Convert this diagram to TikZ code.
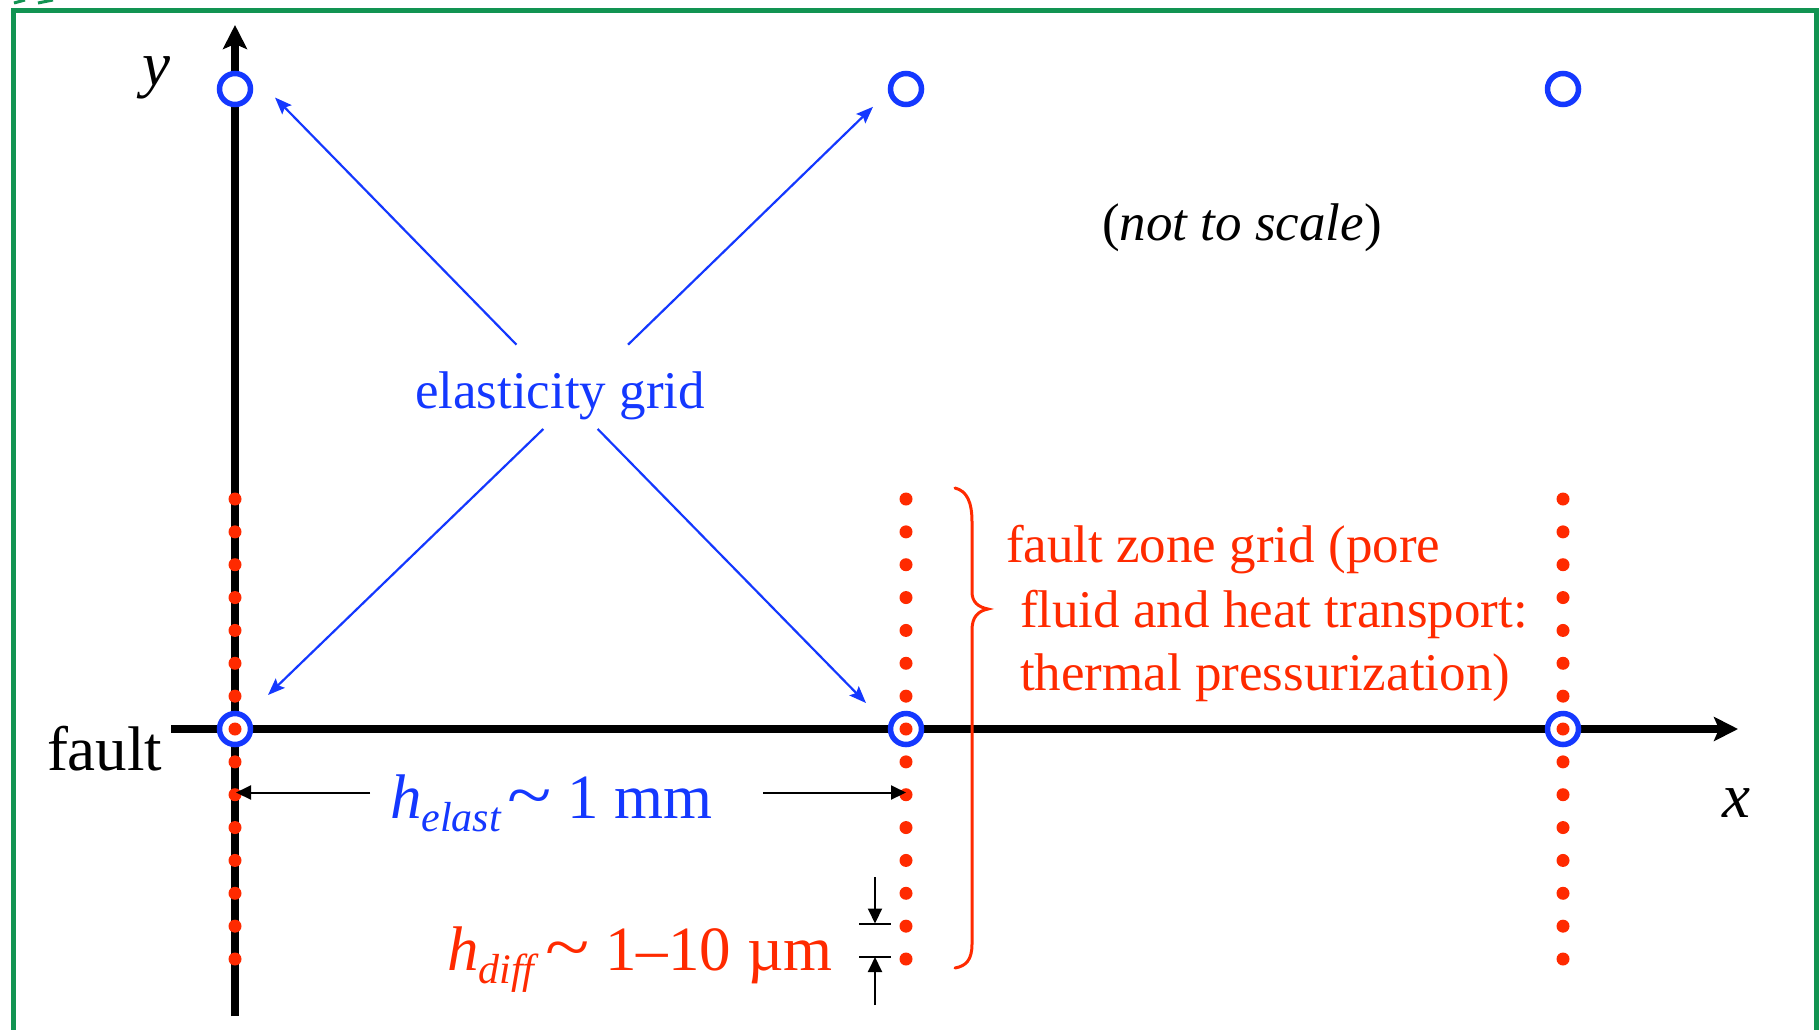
\documentclass[tikz,border=0pt]{standalone}
\usepackage{fontspec}
\usepackage{graphicx}
\setmainfont{Liberation Serif}
\usetikzlibrary{arrows.meta}
\definecolor{gblue}{RGB}{20,56,255}
\definecolor{gred}{RGB}{255,42,0}
\definecolor{ggreen}{RGB}{18,148,82}
\newcommand\FontBig{\fontsize{63}{70}\selectfont}
\newcommand\FontMed{\fontsize{53}{64}\selectfont}
\newcommand\FontSub{\fontsize{42}{48}\selectfont}
\newcommand\BigTilde{\scalebox{1.3}[1.1]{\textasciitilde}}
\begin{document}
\begin{tikzpicture}[x=1pt,y=-1pt,
  axis/.style={line width=7.5pt, -{Stealth[length=24pt,width=24pt,inset=5pt]}},
  ring/.style={circle, draw=gblue, fill=white, line width=5.5pt, minimum size=31pt, inner sep=0pt},
  fzdot/.style={circle, fill=gred, minimum size=13pt, inner sep=0pt, draw=none},
  bluearrow/.style={gblue, line width=2.2pt, -{Stealth[length=17pt,width=13pt,inset=3pt]}},
  dimarrow/.style={black, line width=2pt, -{Triangle[length=15pt,width=14pt]}},
  tick/.style={black, line width=2pt},
  lbl/.style={inner sep=0pt, outer sep=0pt, anchor=base west},
  frame/.style={ggreen, line width=5pt}
]
\useasboundingbox (0,0) rectangle (1820,1029);
% green frame
\draw[frame] (13,1060) -- (13,10) -- (1816,10) -- (1816,1060);
\draw[ggreen, line width=3pt] (14,3) -- (25,0);
\draw[ggreen, line width=3pt] (38,3) -- (53,0);

% axes
\coordinate (xs) at (171,729);
\coordinate (xe) at (1738,729);
\coordinate (ys) at (235,1016);
\coordinate (ye) at (235,25);
\draw[axis] (xs) -- (xe);
\draw[axis] (ys) -- (ye);

% elasticity grid nodes
\node[ring] (c11) at (235,89) {};
\node[ring] (c12) at (906,89) {};
\node[ring] (c13) at (1563,89) {};
\node[ring] (c21) at (235,729) {};
\node[ring] (c22) at (906,729) {};
\node[ring] (c23) at (1563,729) {};

% fault zone grid dots
\foreach \cx/\cn in {235/a,906/b,1563/c}{
  \foreach \i in {0,...,14}{
    \node[fzdot] (d\cn\i) at ({\cx},{499+\i*32.857}) {};
  }
}

% labels
\node[lbl] (ylab) at (142,85) {\FontBig\textit{y}};
\node[lbl] (xlab) at (1722,817) {\FontBig\textit{x}};
\node[lbl] (fault) at (47,770) {\FontBig fault};
\node[inner sep=0pt, anchor=base] (nts) at (1242,240) {\FontMed(\textit{not to scale})};
\node[lbl, text=gblue] (elast) at (415,408) {\FontMed elasticity grid};

\node[lbl, text=gred] (fz1) at (1006,562) {\FontMed fault zone grid (pore};
\node[lbl, text=gred] (fz2) at (1020,627) {\FontMed fluid and heat transport:};
\node[lbl, text=gred] (fz3) at (1020,690) {\FontMed thermal pressurization)};

\node[lbl, text=gblue] (helast) at (390,818) {\FontBig\textit{h}\raisebox{-0.22em}{\FontSub\textit{elast}}\hspace{6pt}\BigTilde{} 1 mm};
\node[lbl, text=gred] (hdiff) at (447,970) {\FontBig\textit{h}\raisebox{-0.22em}{\FontSub\textit{diff}}\hspace{6pt}\BigTilde{} 1\textendash 10 µm};

% blue arrows from label to grid nodes
\coordinate (s1) at (516.5,344.7); \coordinate (t1) at (275,97.5);
\coordinate (s2) at (628,344.7);   \coordinate (t2) at (873,106.8);
\coordinate (s3) at (543.3,429);   \coordinate (t3) at (268,695);
\coordinate (s4) at (597.7,429);   \coordinate (t4) at (866,703);
\draw[bluearrow] (s1) -- (t1);
\draw[bluearrow] (s2) -- (t2);
\draw[bluearrow] (s3) -- (t3);
\draw[bluearrow] (s4) -- (t4);

% h_elast dimension arrows
\coordinate (e1) at (370,792.5); \coordinate (e1t) at (236,792.5);
\coordinate (e2) at (763,792.5); \coordinate (e2t) at (906,792.5);
\draw[dimarrow] (e1) -- (e1t);
\draw[dimarrow] (e2) -- (e2t);

% h_diff dimension arrows
\coordinate (k1a) at (859,923.5); \coordinate (k1b) at (891,923.5);
\coordinate (k2a) at (859,957);   \coordinate (k2b) at (891,957);
\draw[tick] (k1a) -- (k1b);
\draw[tick] (k2a) -- (k2b);
\coordinate (f1) at (875,877);  \coordinate (f1t) at (875,923.5);
\coordinate (f2) at (875,1005); \coordinate (f2t) at (875,957);
\draw[dimarrow] (f1) -- (f1t);
\draw[dimarrow] (f2) -- (f2t);

% brace
\draw[gred, line width=3pt, line cap=round]
  (955,488) .. controls (967,491) and (972,502) .. (972,522)
  -- (972,592) .. controls (972,602) and (978,607) .. (988,609)
  .. controls (978,611) and (972,617) .. (972,630)
  -- (972,944) .. controls (972,960) and (966,966) .. (955,968);
\end{tikzpicture}
\end{document}
